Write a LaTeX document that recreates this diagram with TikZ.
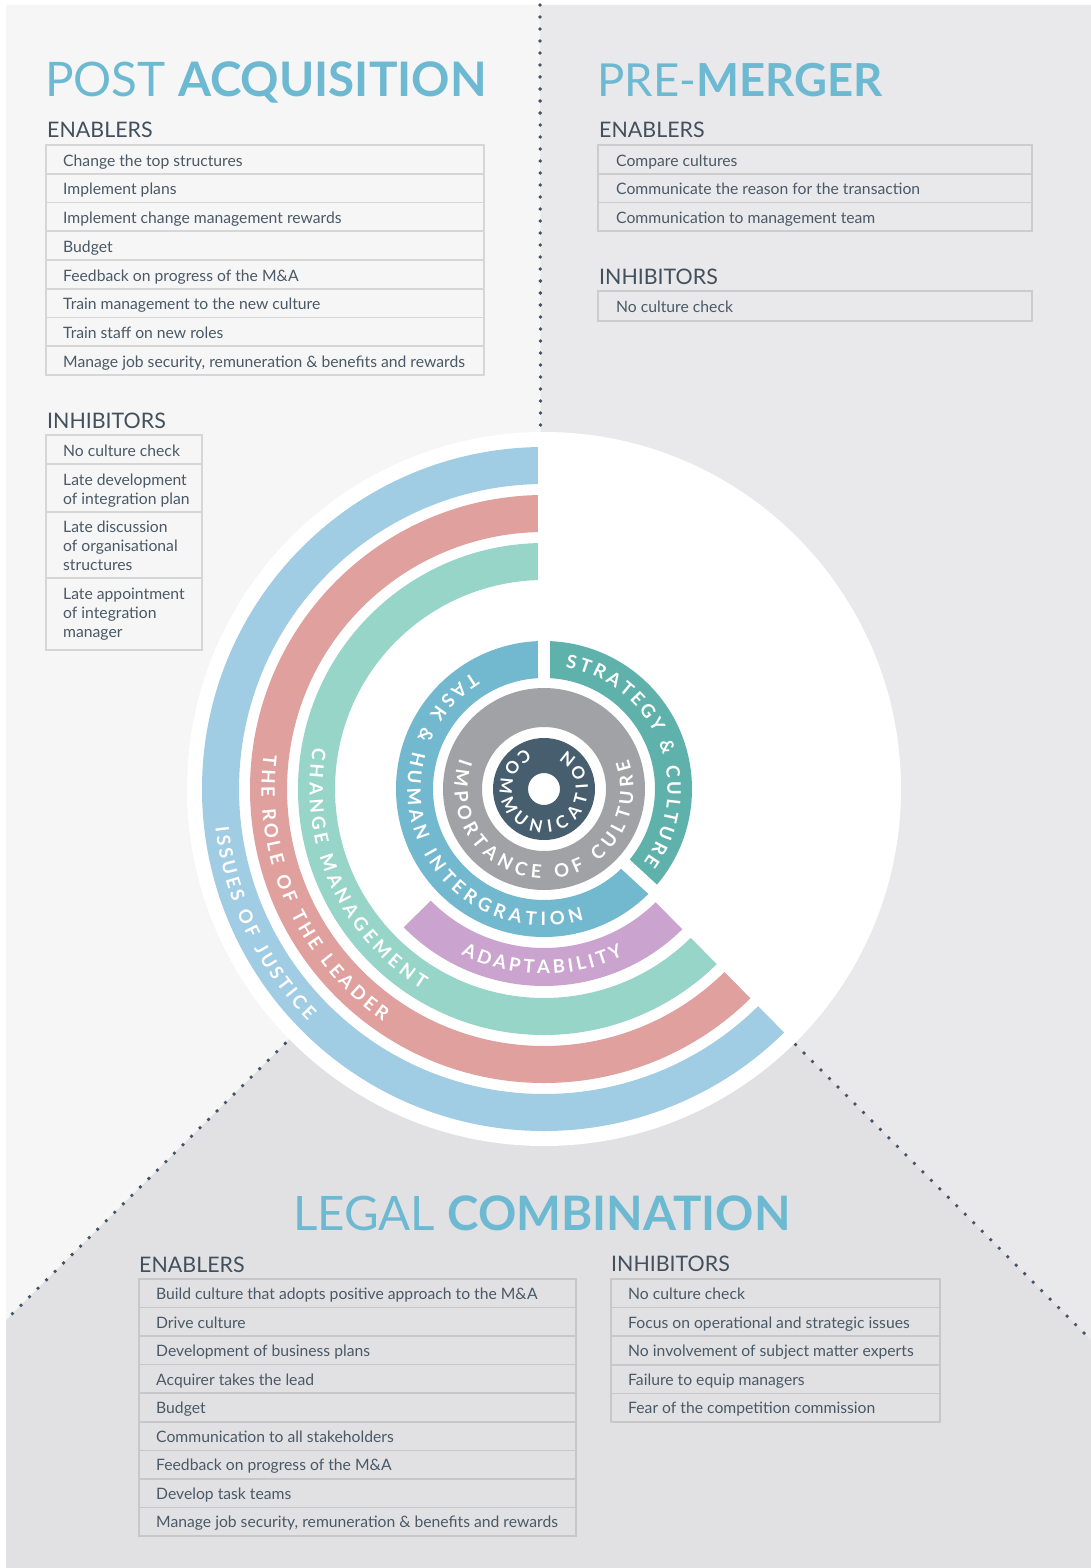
\documentclass[tikz,border=0pt]{standalone}
\usepackage{fontspec}
\setmainfont{Lato}
\usetikzlibrary{decorations.text,calc}
\definecolor{bgTL}{HTML}{F6F6F6}
\definecolor{bgTR}{HTML}{E9E9EB}
\definecolor{bgB}{HTML}{E1E1E3}
\definecolor{titleblue}{HTML}{6EB9D2}
\definecolor{headc}{HTML}{42505E}
\definecolor{itemc}{HTML}{4A5967}
\definecolor{dotc}{HTML}{435466}
\definecolor{cellTL}{HTML}{D6D6D8}
\definecolor{cellTR}{HTML}{CCCCCF}
\definecolor{cellB}{HTML}{C7C7CA}
\definecolor{bandblue}{HTML}{A0CCE4}
\definecolor{bandred}{HTML}{DFA09E}
\definecolor{bandgreen}{HTML}{97D5C8}
\definecolor{bandtask}{HTML}{72B8CF}
\definecolor{bandteal}{HTML}{5FB1AC}
\definecolor{bandgray}{HTML}{A1A2A6}
\definecolor{bandnavy}{HTML}{475E6F}
\definecolor{bandpurple}{HTML}{CAA4CF}
\newcommand\ringtxt{\fontsize{18.5}{18.5}\selectfont\bfseries}
\newcommand\commtxt{\fontsize{17}{17}\selectfont\bfseries}
\newcommand\ringband[5]{\fill[#1] (#2:#5) arc[start angle=#2, end angle=#3, radius=#5pt] -- (#3:#4) arc[start angle=#3, end angle=#2, radius=#4pt] -- cycle;}
\begin{document}
\begin{tikzpicture}[x=1pt,y=1pt,
  cell/.style={draw=#1, line width=1.6pt, inner sep=0pt, outer sep=0pt, anchor=north west},
  item/.style={anchor=base west, inner sep=0pt, text=itemc, font=\fontsize{15.7}{15.7}\selectfont},
  head/.style={anchor=base west, inner sep=0pt, text=headc, font=\fontsize{21.4}{21.4}\selectfont},
  title/.style={anchor=base west, inner sep=0pt, text=titleblue, font=\fontsize{#1}{#1}\selectfont},
  dotline/.style={draw=dotc, line width=3.8pt, line cap=round, dash pattern=on 0pt off 12pt},
  ringtext/.style={decorate, decoration={text along path, text align={fit to path}, text color=white, text={#1}}},
  gapline/.style={draw=white, line width=12.4pt}
]
\useasboundingbox (0,0) rectangle (1091,-1568);
\fill[white] (0,0) rectangle (1091,-1568);
% regions
\coordinate (P) at (541,-790);
\coordinate (vtop) at (540,-5);
\coordinate (llend) at (6,-1320);
\coordinate (lrend) at (1091,-1340);
\fill[bgTL] (6,-5) -- (vtop) -- (P) -- (llend) -- cycle;
\fill[bgTR] (vtop) -- (1091,-5) -- (lrend) -- (P) -- cycle;
\fill[bgB] (P) -- (lrend) -- (1091,-1568) -- (6,-1568) -- (llend) -- cycle;
\draw[dotline] (vtop) -- (P);
\draw[dotline] (P) -- (llend);
\draw[dotline] (P) -- (lrend);
% white disc
\coordinate (O) at (544,-789);
\fill[white] (O) circle[radius=357pt];
\begin{scope}[shift={(O)}]
  \ringband{bandblue}{90}{314.6}{305}{342}
  \ringband{bandred}{90}{314.6}{257}{294}
  \ringband{bandgreen}{90}{314.6}{209}{246}
  \ringband{bandpurple}{224.6}{314.6}{159}{197}
  \ringband{bandtask}{90}{317.3}{111}{148}
  \ringband{bandteal}{-42.7}{90}{111}{148}
  \fill[bandgray, even odd rule] (0,0) circle[radius=101pt] (0,0) circle[radius=62pt];
  \fill[bandnavy, even odd rule] (0,0) circle[radius=51pt] (0,0) circle[radius=16pt];
  \path[gapline] (90:104) -- (90:352);
  \path[gapline] (-42.7:104) -- (-42.7:154);
  % ring texts
  \path[ringtext={|\ringtxt|ISSUES OF JUSTICE}] (186.7:331) arc[start angle=186.7, end angle=224.5, radius=331pt];
  \path[ringtext={|\ringtxt|THE ROLE OF THE LEADER}] (173:282.5) arc[start angle=173, end angle=235.2, radius=282.5pt];
  \path[ringtext={|\ringtxt|CHANGE MANAGEMENT}] (169.9:234.5) arc[start angle=169.9, end angle=238.6, radius=234.5pt];
  \path[ringtext={|\ringtxt|ADAPTABILITY}] (243.4:185) arc[start angle=243.4, end angle=295.4, radius=185pt];
  \path[ringtext={|\ringtxt|TASK {\&} HUMAN INTERGRATION}] (121.4:136.5) arc[start angle=121.4, end angle=287, radius=136.5pt];
  \path[ringtext={|\ringtxt|STRATEGY {\&} CULTURE}] (80:123.5) arc[start angle=80, end angle=-36.3, radius=123.5pt];
  \path[ringtext={|\ringtxt|IMPORTANCE OF CULTURE}] (160:89.5) arc[start angle=160, end angle=379.5, radius=89.5pt];
  \path[ringtext={|\commtxt|COMMUNICATION}] (114:44) arc[start angle=114, end angle=420, radius=44pt];
\end{scope}
% titles and headers
\node[title=47.6] (patitle) at (45,-97) {POST \textbf{ACQUISITION}};
\node[title=45.5] (pmtitle) at (597,-97) {PRE-\textbf{MERGER}};
\node[title=47.5] (lctitle) at (293,-1230) {LEGAL \textbf{COMBINATION}};
\node[head] (paen) at (47,-138) {ENABLERS};
\node[head] (pain) at (47,-428) {INHIBITORS};
\node[head] (pmen) at (599,-138) {ENABLERS};
\node[head] (pmin) at (599,-284) {INHIBITORS};
\node[head] (lcen) at (139,-1272) {ENABLERS};
\node[head] (lcin) at (611,-1271) {INHIBITORS};
% post acquisition enablers
\foreach \t [count=\i from 0] in {Change the top structures, Implement plans, Implement change management rewards, Budget, Feedback on progress of the M\&A, Train management to the new culture, Train staff on new roles, {Manage job security, remuneration \& benefits and rewards}} {
  \node[cell=cellTL, minimum width=438pt, minimum height=28.75pt] (pae\i) at (46,-145-28.75*\i) {};
  \node[item] (paet\i) at ($(pae\i.north west)+(17,-21)$) {\t};
}
% post acquisition inhibitors
\node[cell=cellTL, minimum width=156pt, minimum height=29pt] (pai0) at (46,-435) {};
\node[cell=cellTL, minimum width=156pt, minimum height=48pt] (pai1) at (46,-464) {};
\node[cell=cellTL, minimum width=156pt, minimum height=66pt] (pai2) at (46,-512) {};
\node[cell=cellTL, minimum width=156pt, minimum height=72pt] (pai3) at (46,-578) {};
\node[item] (pait0) at ($(pai0.north west)+(17,-21)$) {No culture check};
\node[item] (pait1a) at ($(pai1.north west)+(17,-21)$) {Late development};
\node[item] (pait1b) at ($(pai1.north west)+(17,-40)$) {of integration plan};
\node[item] (pait2a) at ($(pai2.north west)+(17,-20)$) {Late discussion};
\node[item] (pait2b) at ($(pai2.north west)+(17,-39)$) {of organisational};
\node[item] (pait2c) at ($(pai2.north west)+(17,-58)$) {structures};
\node[item] (pait3a) at ($(pai3.north west)+(17,-21)$) {Late appointment};
\node[item] (pait3b) at ($(pai3.north west)+(17,-40)$) {of integration};
\node[item] (pait3c) at ($(pai3.north west)+(17,-59)$) {manager};
% pre-merger
\foreach \t [count=\i from 0] in {Compare cultures, Communicate the reason for the transaction, Communication to management team} {
  \node[cell=cellTR, minimum width=434pt, minimum height=28.75pt] (pme\i) at (598,-145-28.75*\i) {};
  \node[item] (pmet\i) at ($(pme\i.north west)+(18,-21)$) {\t};
}
\node[cell=cellTR, minimum width=434pt, minimum height=30pt] (pmi0) at (598,-291) {};
\node[item] (pmit0) at ($(pmi0.north west)+(18,-21)$) {No culture check};
% legal combination
\foreach \t [count=\i from 0] in {Build culture that adopts positive approach to the M\&A, Drive culture, Development of business plans, Acquirer takes the lead, Budget, Communication to all stakeholders, Feedback on progress of the M\&A, Develop task teams, {Manage job security, remuneration \& benefits and rewards}} {
  \node[cell=cellB, minimum width=437pt, minimum height=28.56pt] (lce\i) at (139,-1279-28.56*\i) {};
  \node[item] (lcet\i) at ($(lce\i.north west)+(17,-20.5)$) {\t};
}
\foreach \t [count=\i from 0] in {No culture check, Focus on operational and strategic issues, No involvement of subject matter experts, Failure to equip managers, Fear of the competition commission} {
  \node[cell=cellB, minimum width=329pt, minimum height=28.6pt] (lci\i) at (611,-1279-28.6*\i) {};
  \node[item] (lcit\i) at ($(lci\i.north west)+(17,-20.5)$) {\t};
}
\end{tikzpicture}
\end{document}
